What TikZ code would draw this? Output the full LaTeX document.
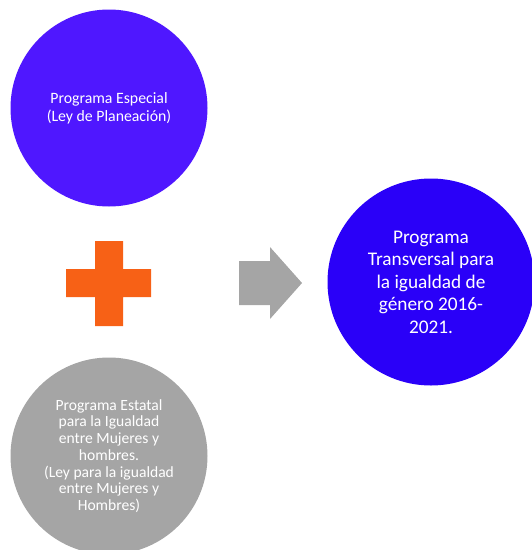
\documentclass[tikz,border=0pt]{standalone}
\usepackage{fontspec}
\setmainfont{Carlito}
\definecolor{violeta}{HTML}{4F17FF}
\definecolor{azul}{HTML}{2A00F8}
\definecolor{gris}{HTML}{A5A5A5}
\definecolor{naranja}{HTML}{F76116}
\tikzset{
  circulo/.style={circle,fill=#1,text=white,align=center,inner sep=0pt},
}
\begin{document}
\begin{tikzpicture}[x=1pt,y=-1pt]
  \useasboundingbox (0,0) rectangle (532,550);
  \node[circulo=violeta,minimum size=197pt,font=\fontsize{15.8}{18.3}\selectfont](especial) at(109,108)
    {Programa Especial\\(Ley de Planeación)};
  \node[circulo=gris,minimum size=197pt,font=\fontsize{15.6}{16.7}\selectfont](estatal) at(109,456)
    {Programa Estatal\\para la Igualdad\\entre Mujeres y\\hombres.\\(Ley para la igualdad\\entre Mujeres y\\Hombres)};
  \node[circulo=azul,minimum size=207pt,font=\fontsize{19.3}{22.5}\selectfont](transversal) at(431,282)
    {Programa\\Transversal para\\la igualdad de\\género 2016-\\2021.};
  % signo mas
  \fill[naranja] (95,241) -- (123,241) -- (123,269) -- (151,269) -- (151,297) -- (123,297)
    -- (123,326) -- (95,326) -- (95,297) -- (66,297) -- (66,269) -- (95,269) -- cycle;
  % flecha
  \fill[gris] (239,261) -- (270,261) -- (270,247) -- (302,283) -- (270,319) -- (270,305)
    -- (239,305) -- cycle;
\end{tikzpicture}
\end{document}
